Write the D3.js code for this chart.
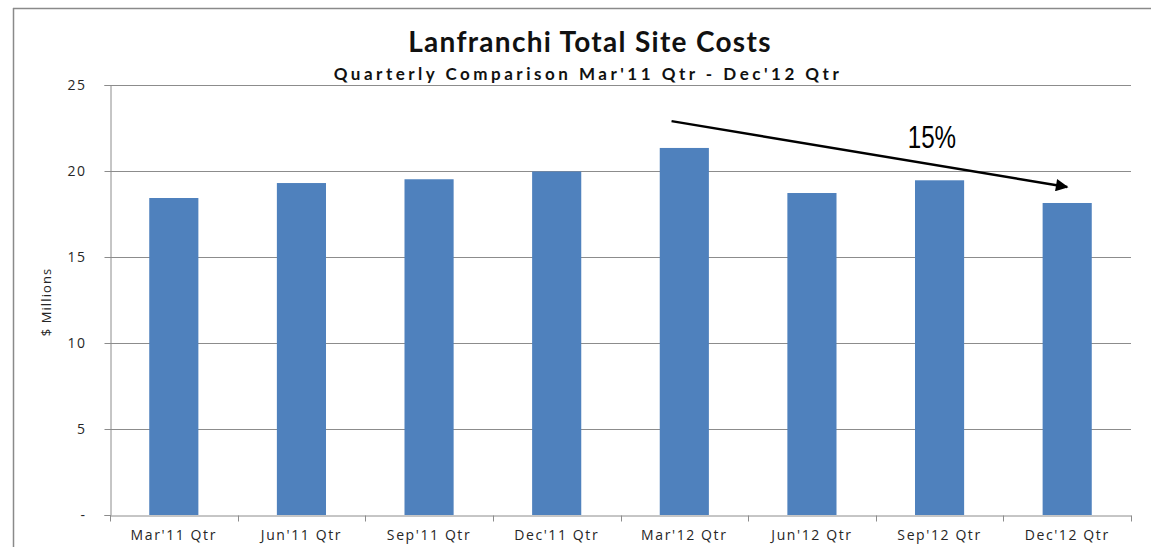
<!DOCTYPE html>
<html><head><meta charset="utf-8">
<script src="https://cdnjs.cloudflare.com/ajax/libs/d3/7.8.5/d3.min.js"></script>
<style>
html,body{margin:0;padding:0;background:#fff;}
svg{display:block;}
</style></head>
<body>
<svg id="chart" width="1151" height="547"></svg>
<script>
const categories = ["Mar'11 Qtr","Jun'11 Qtr","Sep'11 Qtr","Dec'11 Qtr","Mar'12 Qtr","Jun'12 Qtr","Sep'12 Qtr","Dec'12 Qtr"];
const values = [18.43, 19.3, 19.52, 19.97, 21.34, 18.72, 19.46, 18.14];
const yTicks = [0, 5, 10, 15, 20, 25];
const yTickLabels = ["-", "5", "10", "15", "20", "25"];
const titleText = "Lanfranchi Total Site Costs";
const subtitleText = "Quarterly Comparison Mar'11 Qtr - Dec'12 Qtr";
const yAxisTitle = "$ Millions";
// annotation arrow: from (category, fraction of band, value) to (category, fraction, value)
const arrowFrom = ["Mar'12 Qtr", 0.4, 22.9];
const arrowTo = ["Dec'12 Qtr", 0.5, 19.07];
const arrowLabel = ["15%", "Sep'12 Qtr", 0.44, 21.34];

const svg = d3.select("#chart");
const W = 1151, H = 547;
const m = {left: 110, right: 20, top: 85, bottom: 32};

// outer frame
svg.append("line").attr("x1", 13).attr("x2", W).attr("y1", 8.5).attr("y2", 8.5).attr("stroke", "#8a8a8a").attr("stroke-width", 1.5);
svg.append("line").attr("x1", 13.5).attr("x2", 13.5).attr("y1", 8).attr("y2", H).attr("stroke", "#8a8a8a").attr("stroke-width", 1.5);

const x = d3.scaleBand().domain(categories).range([m.left, W - m.right]).padding(0);
const y = d3.scaleLinear().domain([0, 25]).range([H - m.bottom, m.top]);
const bw = x.bandwidth();
const barW = bw * 0.385;

// gridlines
svg.append("g").selectAll("line").data(yTicks.filter(d => d > 0)).join("line")
  .attr("x1", m.left).attr("x2", W - m.right)
  .attr("y1", d => Math.round(y(d)) + 0.5).attr("y2", d => Math.round(y(d)) + 0.5)
  .attr("stroke", "#8c8c8c").attr("stroke-width", 1);

// bars
svg.append("g").selectAll("rect").data(values).join("rect")
  .attr("x", (d, i) => x(categories[i]) + (bw - barW) / 2)
  .attr("width", barW)
  .attr("y", d => y(d))
  .attr("height", d => y(0) - y(d))
  .attr("fill", "#4f81bd");

// y axis
const yAxis = d3.axisLeft(y).tickValues(yTicks).tickSize(6).tickPadding(18)
  .tickFormat((d, i) => yTickLabels[i]);
const gy = svg.append("g").attr("transform", `translate(${m.left + 0.5},0)`).call(yAxis);
gy.select(".domain").attr("stroke", "#8c8c8c");
gy.selectAll(".tick line").attr("stroke", "#8c8c8c");
gy.selectAll(".tick text").attr("fill", "#262626").style("font-family", "'Open Sans', sans-serif").style("font-size", "14px").attr("letter-spacing", "1.5px");

// x axis
const xAxis = d3.axisBottom(x).tickSize(0).tickPadding(15);
const gx = svg.append("g").attr("transform", `translate(0,${Math.round(y(0)) + 0.5})`).call(xAxis);
gx.select(".domain").attr("stroke", "#8c8c8c");
gx.selectAll(".tick text").attr("fill", "#262626").style("font-family", "'Open Sans', sans-serif").style("font-size", "14px").attr("letter-spacing", "1.6px");
// x tick marks at band boundaries
const bounds = categories.map(c => x(c)).concat([x(categories[categories.length - 1]) + bw]);
gx.append("g").selectAll("line").data(bounds).join("line")
  .attr("x1", d => Math.round(d) + 0.5).attr("x2", d => Math.round(d) + 0.5)
  .attr("y1", 0).attr("y2", 6).attr("stroke", "#8c8c8c");

// y axis title
svg.append("text")
  .attr("transform", `translate(51,${(y(0) + y(25)) / 2 + 2}) rotate(-90)`)
  .attr("text-anchor", "middle")
  .style("font-family", "'Open Sans', sans-serif").style("font-size", "13px").attr("fill", "#262626")
  .attr("letter-spacing", "1.1px")
  .text(yAxisTitle);

// titles
svg.append("text").attr("x", 590).attr("y", 52).attr("text-anchor", "middle")
  .style("font-family", "Lato, sans-serif").style("font-weight", "bold").style("font-size", "28px").attr("fill", "#111")
  .attr("letter-spacing", "1.3px")
  .text(titleText);
svg.append("text").attr("x", 588).attr("y", 80).attr("text-anchor", "middle")
  .style("font-family", "Lato, sans-serif").style("font-weight", "bold").style("font-size", "17px").attr("fill", "#111")
  .attr("letter-spacing", "3.5px")
  .text(subtitleText);

// arrow annotation
const defs = svg.append("defs");
defs.append("marker").attr("id", "ah").attr("viewBox", "0 0 10 10").attr("refX", 9).attr("refY", 5)
  .attr("markerWidth", 6).attr("markerHeight", 5).attr("markerUnits", "strokeWidth").attr("orient", "auto")
  .append("path").attr("d", "M0,0 L10,5 L0,10 Z").attr("fill", "#000");
svg.append("line")
  .attr("x1", x(arrowFrom[0]) + bw * arrowFrom[1]).attr("y1", y(arrowFrom[2]))
  .attr("x2", x(arrowTo[0]) + bw * arrowTo[1]).attr("y2", y(arrowTo[2]))
  .attr("stroke", "#000").attr("stroke-width", 2.5).attr("marker-end", "url(#ah)");
svg.append("text")
  .attr("transform", `translate(${x(arrowLabel[1]) + bw * arrowLabel[2]},${y(arrowLabel[3])}) scale(0.78,1)`)
  .attr("text-anchor", "middle")
  .style("font-family", "'Liberation Sans', Arial, sans-serif").style("font-size", "31px").attr("fill", "#000")
  .text(arrowLabel[0]);
</script>
</body></html>
